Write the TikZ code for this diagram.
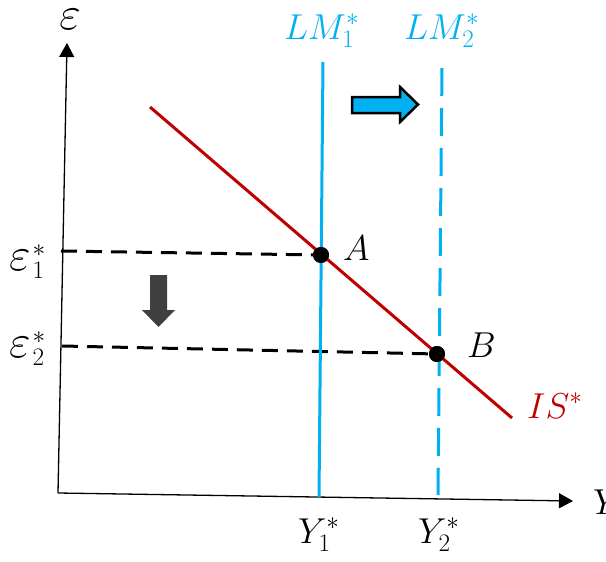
\RequirePackage{fix-cm}
\documentclass[tikz,border=0pt]{standalone}
\usetikzlibrary{arrows.meta}
\definecolor{lmblue}{RGB}{0,176,240}
\definecolor{isred}{RGB}{192,0,0}
\definecolor{darkarrow}{RGB}{64,64,64}
\newcommand{\bigeps}{\scalebox{1.3}{$\varepsilon$}}
\begin{document}
\begin{tikzpicture}[x=1pt,y=-1pt,
  axisline/.style={line width=1.3pt,-{Triangle[length=14pt,width=15pt]}},
  lmline/.style={draw=lmblue,line width=3pt},
  lmdashed/.style={lmline,dash pattern=on 28pt off 12pt},
  guide/.style={draw=black,line width=3pt,dash pattern=on 16pt off 9pt},
  isline/.style={draw=isred,line width=3pt},
  eqdot/.style={circle,fill=black,inner sep=0pt,minimum size=16pt},
  lbl/.style={inner sep=0pt,font=\fontsize{36}{42}\selectfont},
  blocky/.style={line width=2.5pt,line join=miter}]
\useasboundingbox (0,0) rectangle (606,562);
% axes
\coordinate (O) at (58,493);
\coordinate (ytip) at (67,43);
\coordinate (xtip) at (573,501);
\draw[axisline] (O) -- (ytip);
\draw[axisline] (O) -- (xtip);
% equilibrium points
\node[eqdot] (A) at (321,255) {};
\node[eqdot] (B) at (437,354) {};
% guides
\coordinate (e1) at (61,251);
\coordinate (e2) at (62,346);
\draw[guide] (e1) -- (A.center);
\draw[guide] (e2) -- (B.center);
% IS curve
\coordinate (is1) at (150,107);
\coordinate (is2) at (512,418);
\draw[isline] (is1) -- (is2);
% LM curves
\coordinate (lm1t) at (323,62);
\coordinate (lm1b) at (319,497);
\coordinate (lm2t) at (442,68);
\coordinate (lm2b) at (438,495);
\draw[lmline] (lm1t) -- (lm1b);
\draw[lmdashed] (lm2t) -- (lm2b);
% redraw dots on top
\node[eqdot] at (A.center) {};
\node[eqdot] at (B.center) {};
% block arrows
\draw[blocky,fill=lmblue,draw=black] (352,97) -- (400,97) -- (400,87) -- (418,104.5) -- (400,122) -- (400,113) -- (352,113) -- cycle;
\fill[darkarrow] (150,275) -- (167,275) -- (167,310) -- (175,310) -- (158.5,327) -- (142,310) -- (150,310) -- cycle;
% labels
\node[lbl,anchor=base] (eps) at (70,30) {\bigeps};
\node[lbl,anchor=base west] (ylbl) at (593,514) {$Y$};
\node[lbl,anchor=base west,text=lmblue] (lm1l) at (284,39) {$LM_1^*$};
\node[lbl,anchor=base west,text=lmblue] (lm2l) at (404,39) {$LM_2^*$};
\node[lbl,anchor=base west] (e1l) at (9,270) {\bigeps\kern2pt$_1^*$};
\node[lbl,anchor=base west] (e2l) at (9,357) {\bigeps\kern2pt$_2^*$};
\node[lbl,anchor=base west] (Al) at (343,260) {$A$};
\node[lbl,anchor=base west] (Bl) at (467,357) {$B$};
\node[lbl,anchor=base west,text=isred] (isl) at (527,418) {$IS^*$};
\node[lbl,anchor=base west] (y1l) at (298,543) {$Y_1^*$};
\node[lbl,anchor=base west] (y2l) at (418,543) {$Y_2^*$};
\end{tikzpicture}
\end{document}
